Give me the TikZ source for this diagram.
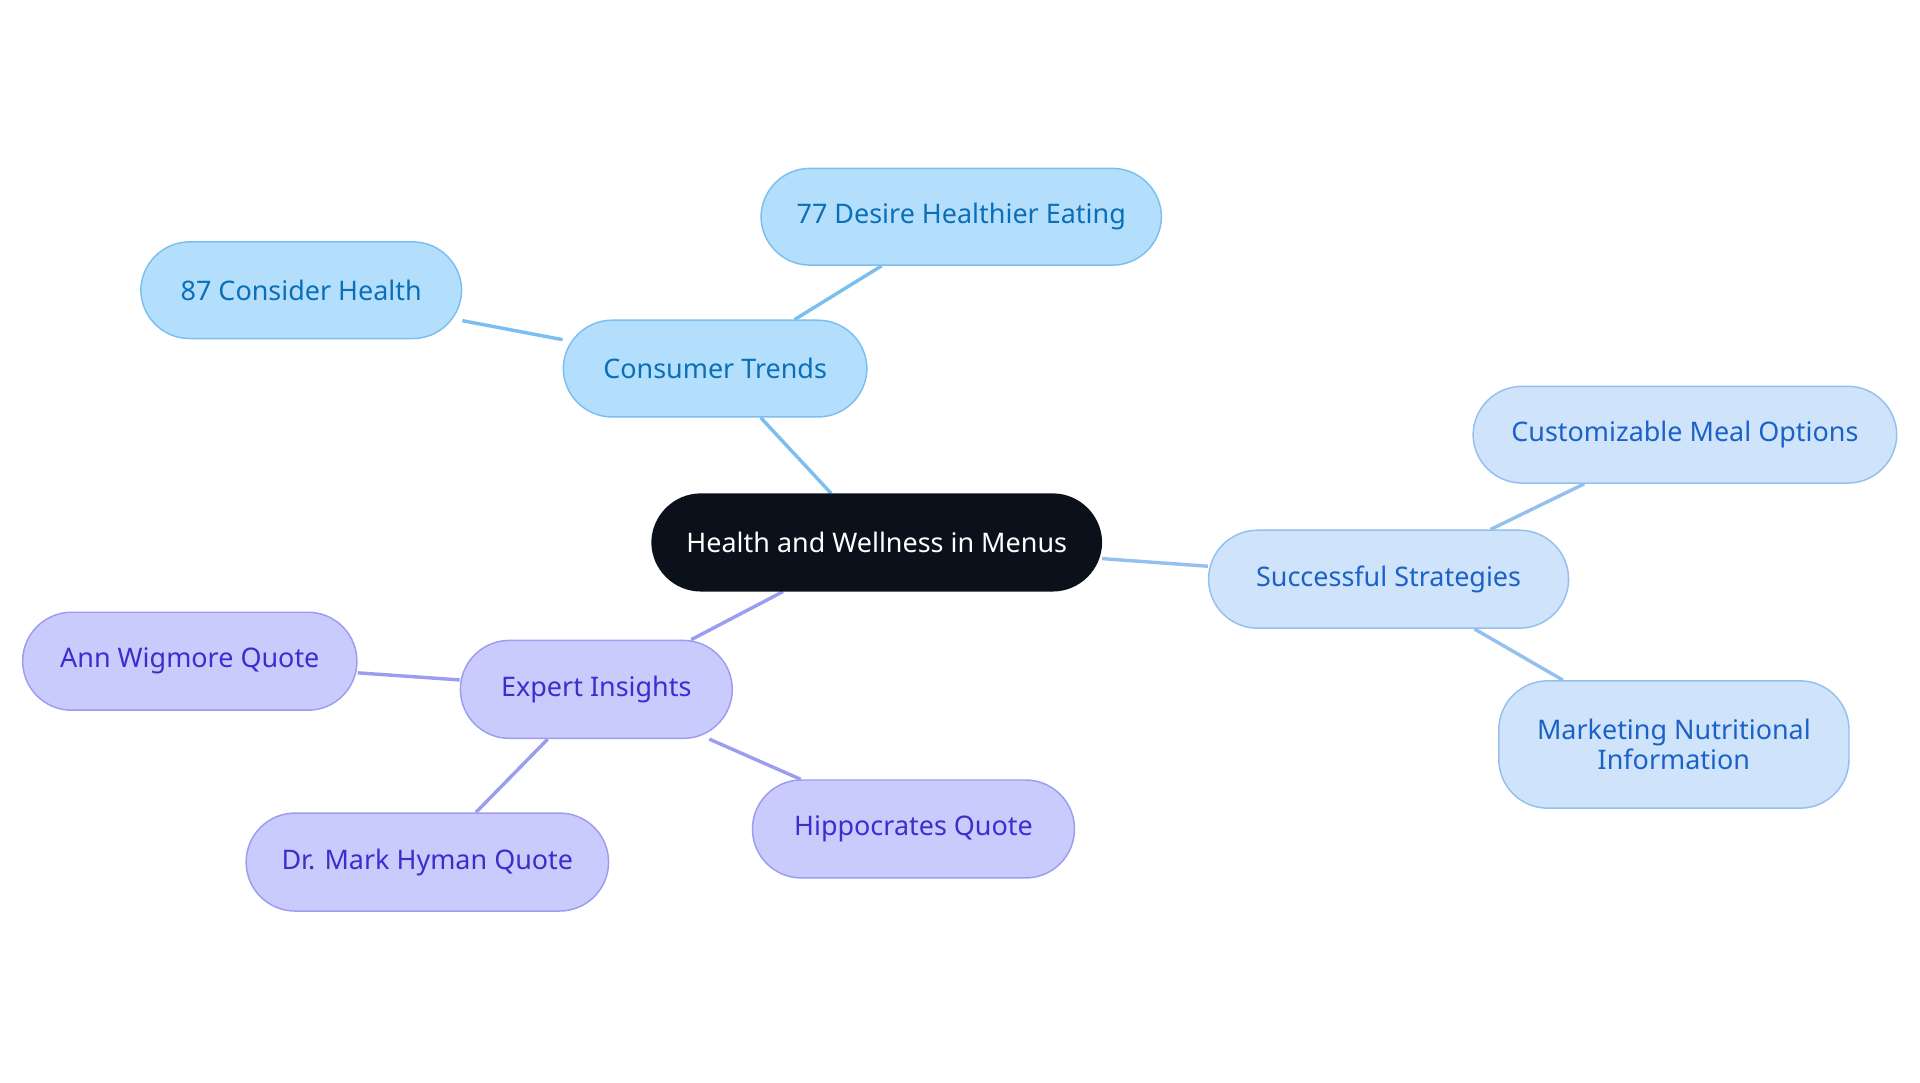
\documentclass[tikz,border=0pt]{standalone}
\usepackage{fontspec}
\setmainfont{Noto Sans}
\usetikzlibrary{backgrounds}
\definecolor{cfill}{HTML}{B3DFFD}\definecolor{cline}{HTML}{7BBFEF}\definecolor{ctext}{HTML}{0B6FB8}
\definecolor{sfill}{HTML}{CFE3FA}\definecolor{sline}{HTML}{94C0F0}\definecolor{stext}{HTML}{1A62C8}
\definecolor{pfill}{HTML}{C9CBFD}\definecolor{pline}{HTML}{9C9CF0}\definecolor{ptext}{HTML}{3B2ECC}
\definecolor{dark}{HTML}{0B111B}
\tikzset{
 bx/.style={rounded corners=20pt,line width=0.6pt,inner sep=0pt,align=center,font=\fontsize{11}{12.5}\selectfont},
 cb/.style={bx,fill=cfill,draw=cline,text=ctext},
 sb/.style={bx,fill=sfill,draw=sline,text=stext},
 pb/.style={bx,fill=pfill,draw=pline,text=ptext},
 ce/.style={draw=cline,line width=1.4pt},
 se/.style={draw=sline,line width=1.4pt},
 pe/.style={draw=pline,line width=1.4pt},
}
\newcommand\bn[6]{\node[#1,minimum width=#4*0.5pt,minimum height=#5*0.5pt] (#2) at (#3) {#6};}
\begin{document}
\begin{tikzpicture}[x=0.5pt,y=-0.5pt]
\useasboundingbox (0,0) rectangle (1568,884);
\bn{bx,fill=dark,draw=dark,text=white}{root}{716,443}{367}{79}{Health and Wellness in Menus}
\bn{cb}{ct}{584,301}{248}{79}{Consumer Trends}
\bn{cb}{c87}{246,237}{262}{79}{87 Consider Health}
\bn{cb}{c77}{785,177}{327}{79}{77 Desire Healthier Eating}
\bn{sb}{ss}{1134,473}{294}{80}{Successful Strategies}
\bn{sb}{cm}{1376,355}{346}{79}{Customizable Meal Options}
\bn{sb}{mn}{1367,608}{286}{104}{Marketing Nutritional\\Information}
\bn{pb}{ei}{487,563}{222}{80}{Expert Insights}
\bn{pb}{aw}{155,540}{273}{80}{Ann Wigmore Quote}
\bn{pb}{mh}{349,704}{296}{80}{Dr. Mark Hyman Quote}
\bn{pb}{hq}{746,677}{263}{80}{Hippocrates Quote}
\begin{scope}[on background layer]
\draw[ce] (root) -- (ct);
\draw[ce] (ct) -- (c87);
\draw[ce] (ct) -- (c77);
\draw[se] (root) -- (ss);
\draw[se] (ss) -- (cm);
\draw[se] (ss) -- (mn);
\draw[pe] (root) -- (ei);
\draw[pe] (ei) -- (aw);
\draw[pe] (ei) -- (mh);
\draw[pe] (ei) -- (hq);
\end{scope}
\end{tikzpicture}
\end{document}
